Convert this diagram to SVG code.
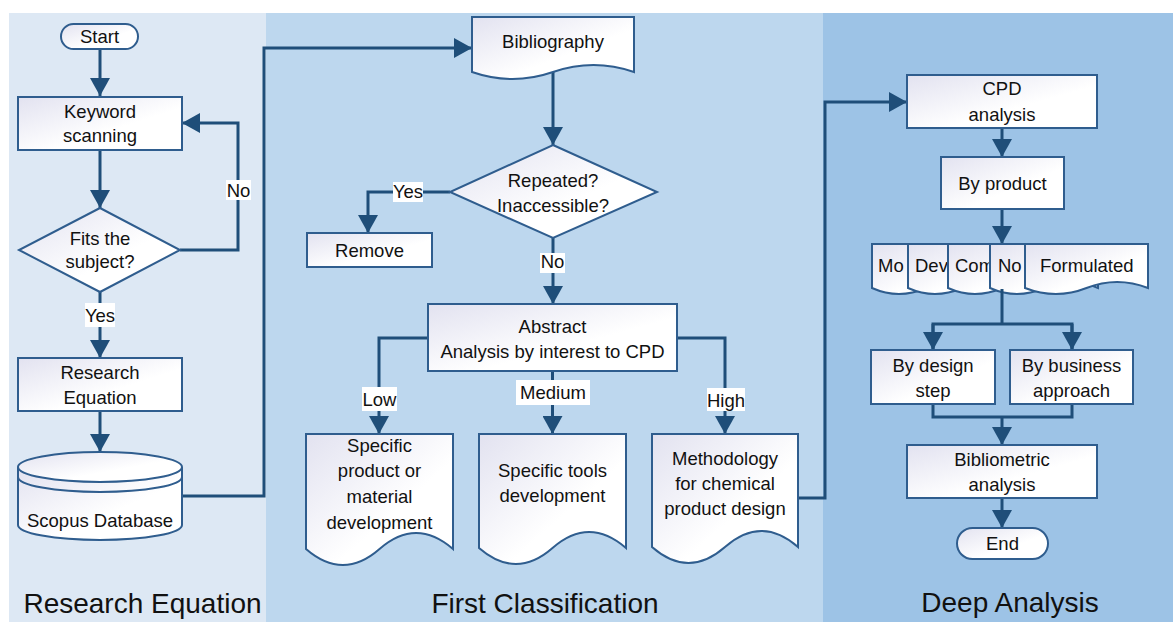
<svg xmlns="http://www.w3.org/2000/svg" width="1173" height="622" viewBox="0 0 1173 622">
<style>
.node{fill:url(#g);stroke:#2f5d8e;stroke-width:2}
.t{font-family:"Liberation Sans",Arial,sans-serif;font-size:18.5px;fill:#111;text-anchor:middle}
.ts{font-family:"Liberation Sans",Arial,sans-serif;font-size:18.5px;fill:#111}
.title{font-family:"Liberation Sans",Arial,sans-serif;font-size:28px;fill:#111;text-anchor:middle}
.c{fill:none;stroke:#1f4e79;stroke-width:3}
.a{marker-end:url(#ah)}
.lbl{fill:#fff}
</style>
<defs>
<linearGradient id="g" x1="0" y1="0" x2="1" y2="1">
<stop offset="0" stop-color="#e2e2f0"/>
<stop offset="0.6" stop-color="#ffffff"/>
</linearGradient>
<marker id="ah" viewBox="0 0 18 20" refX="18" refY="10" markerWidth="18" markerHeight="20" markerUnits="userSpaceOnUse" orient="auto">
<path d="M0,0 L18,10 L0,20 z" fill="#1f4e79"/>
</marker>
</defs>
<rect width="1173" height="622" fill="#fff"/>
<g id="panels">
<rect x="9" y="13" width="257" height="609" fill="#dde8f4"/>
<rect x="266" y="13" width="557" height="609" fill="#bdd7ee"/>
<rect x="823" y="13" width="350" height="609" fill="#9dc3e6"/>
<text class="title" x="142.5" y="613">Research Equation</text>
<text class="title" x="545" y="613">First Classification</text>
<text class="title" x="1010" y="612">Deep Analysis</text>
</g>
<g id="connectors">
<path class="c a" d="M100,49 V96"/>
<path class="c a" d="M100,150 V208"/>
<path class="c a" d="M180,250 H238 V123 H182"/>
<path class="c a" d="M100,292 V358"/>
<path class="c a" d="M100,411 V452"/>
<path class="c a" d="M182,496 H264 V48 H472"/>
<path class="c a" d="M553,72 V145"/>
<path class="c a" d="M450,192 H368 V233"/>
<path class="c a" d="M553,238 V304"/>
<path class="c a" d="M428,338 H379 V434"/>
<path class="c a" d="M552.5,371 V434"/>
<path class="c a" d="M677,338 H725 V434"/>
<path class="c a" d="M798,498 H825 V102 H907"/>
<path class="c a" d="M1002,128 V157"/>
<path class="c a" d="M1002,209 V244"/>
<path class="c a" d="M933,404 V417 H1072 V404 M1002,417 V445"/>
<path class="c a" d="M1002,498 V528"/>
<rect class="lbl" x="226" y="180" width="25" height="20"/>
<text class="t" x="238.5" y="197">No</text>
<rect class="lbl" x="85" y="303" width="30" height="24"/>
<text class="t" x="100" y="322">Yes</text>
<rect class="lbl" x="393" y="182" width="30" height="20"/>
<text class="t" x="408" y="198">Yes</text>
<rect class="lbl" x="540" y="253" width="25" height="20"/>
<text class="t" x="552.5" y="268">No</text>
<rect class="lbl" x="362" y="387" width="35" height="24"/>
<text class="t" x="379.5" y="406">Low</text>
<rect class="lbl" x="516" y="380" width="74" height="25"/>
<text class="t" x="553" y="399">Medium</text>
<rect class="lbl" x="707" y="388" width="38" height="23"/>
<text class="t" x="726" y="407">High</text>
</g>
<g id="start">
<rect class="node" x="61" y="24" width="77" height="25" rx="12.5"/>
<text class="t" x="99.5" y="43">Start</text>
</g>
<g id="keyword">
<rect class="node" x="18" y="97" width="164" height="53"/>
<text class="t" x="100" y="118">Keyword</text>
<text class="t" x="100" y="142">scanning</text>
</g>
<g id="fits">
<polygon class="node" points="100,208 180,250 100,292 19,250"/>
<text class="t" x="100" y="245">Fits the</text>
<text class="t" x="100" y="268">subject?</text>
</g>
<g id="research">
<rect class="node" x="18" y="358" width="164" height="53"/>
<text class="t" x="100" y="379">Research</text>
<text class="t" x="100" y="404">Equation</text>
</g>
<g id="scopus">
<path class="node" d="M18,467 V525 A82,15 0 0 0 182,525 V467"/>
<ellipse class="node" cx="100" cy="467" rx="82" ry="15"/>
<path class="node" style="fill:none" d="M18,477 A82,15 0 0 0 182,477"/>
<text class="t" x="100" y="527">Scopus Database</text>
</g>
<g id="bibliography">
<path class="node" d="M472,17 H634 V72 Q593.5,58 553,72 T472,72 Z"/>
<text class="t" x="553" y="48">Bibliography</text>
</g>
<g id="repeated">
<polygon class="node" points="553,145 657,192 553,238 450,192"/>
<text class="t" x="553" y="187">Repeated?</text>
<text class="t" x="553" y="212">Inaccessible?</text>
</g>
<g id="remove">
<rect class="node" x="307" y="233" width="125" height="34"/>
<text class="t" x="369.5" y="257">Remove</text>
</g>
<g id="abstract">
<rect class="node" x="428" y="304" width="249" height="67"/>
<text class="t" x="552.5" y="333">Abstract</text>
<text class="t" x="552.5" y="358">Analysis by interest to CPD</text>
</g>
<g id="specific-product">
<path class="node" d="M306,434 H453 V549 Q416,517 379.5,549 T306,549 Z"/>
<text class="t" x="379.5" y="452">Specific</text>
<text class="t" x="379.5" y="477">product or</text>
<text class="t" x="379.5" y="503">material</text>
<text class="t" x="379.5" y="529">development</text>
</g>
<g id="specific-tools">
<path class="node" d="M479,434 H626 V548 Q589,516 552.5,548 T479,548 Z"/>
<text class="t" x="552.5" y="477">Specific tools</text>
<text class="t" x="552.5" y="502">development</text>
</g>
<g id="methodology">
<path class="node" d="M652,434 H798 V547 Q761.5,515 725,547 T652,547 Z"/>
<text class="t" x="725" y="465">Methodology</text>
<text class="t" x="725" y="490">for chemical</text>
<text class="t" x="725" y="515">product design</text>
</g>
<g id="cpd">
<rect class="node" x="907" y="75" width="190" height="53"/>
<text class="t" x="1002" y="95">CPD</text>
<text class="t" x="1002" y="121">analysis</text>
</g>
<g id="byproduct">
<rect class="node" x="941" y="157" width="123" height="52"/>
<text class="t" x="1002.5" y="190">By product</text>
</g>
<g id="product-types">
<path class="node" d="M872,244 H980 V288 Q953,276 926,288 T872,288 Z"/>
<text class="ts" x="878" y="272">Mo</text>
<path class="node" d="M908,244 H1016 V288 Q989,276 962,288 T908,288 Z"/>
<text class="ts" x="915" y="272">Dev</text>
<path class="node" d="M948,244 H1056 V288 Q1029,276 1002,288 T948,288 Z"/>
<text class="ts" x="955" y="272">Com</text>
<path class="node" d="M990,244 H1098 V288 Q1071,276 1044,288 T990,288 Z"/>
<text class="ts" x="998" y="272">No</text>
<path class="node" d="M1025,244 H1148 V288 Q1117,276 1086.5,288 T1025,288 Z"/>
<text class="ts" x="1040" y="272">Formulated</text>
<path class="c" d="M1002,289 V324 H933 V350 M1002,324 H1072 V350" style="marker-end:none"/>
<path class="c a" d="M933,324 V350"/>
<path class="c a" d="M1072,324 V350"/>
</g>
<g id="bydesign">
<rect class="node" x="871" y="350" width="124" height="54"/>
<text class="t" x="933" y="372">By design</text>
<text class="t" x="933" y="397">step</text>
</g>
<g id="bybusiness">
<rect class="node" x="1010" y="350" width="123" height="54"/>
<text class="t" x="1071.5" y="372">By business</text>
<text class="t" x="1071.5" y="397">approach</text>
</g>
<g id="bibliometric">
<rect class="node" x="907" y="445" width="190" height="53"/>
<text class="t" x="1002" y="466">Bibliometric</text>
<text class="t" x="1002" y="491">analysis</text>
</g>
<g id="end">
<rect class="node" x="957" y="528" width="91" height="31" rx="15.5"/>
<text class="t" x="1002.5" y="550">End</text>
</g>
</svg>
